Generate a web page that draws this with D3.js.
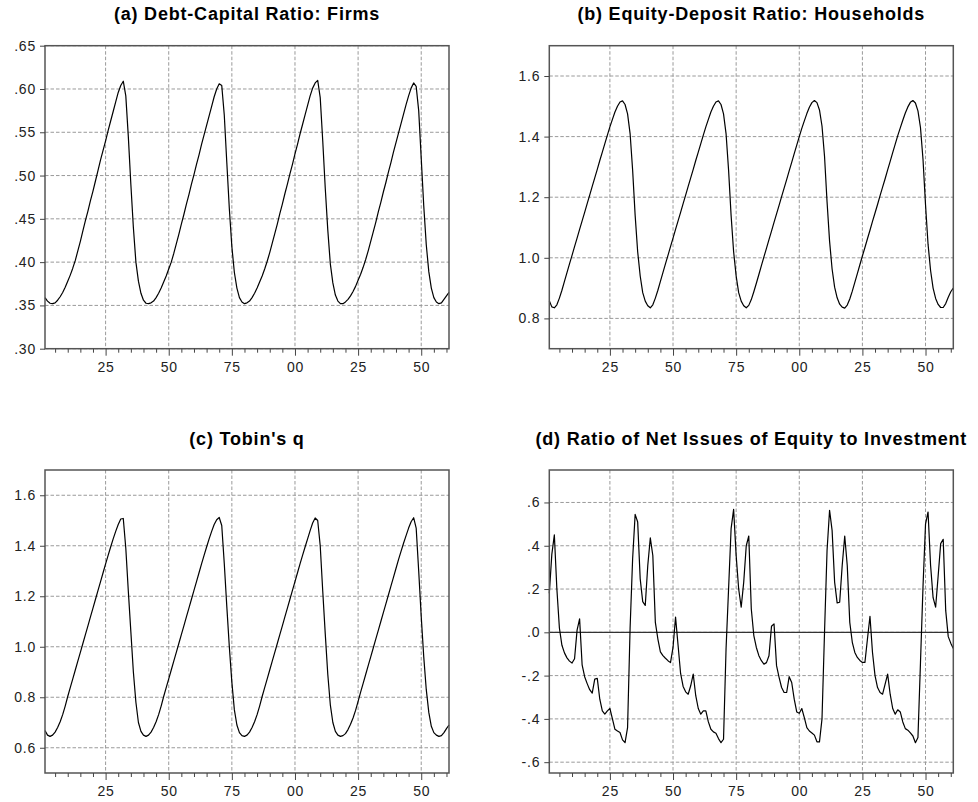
<!DOCTYPE html>
<html lang="en">
<head>
<meta charset="UTF-8">
<title>Simulated ratios</title>
<script src="https://d3js.org/d3.v7.min.js"></script>
<style>
  body { margin: 0; background: #fff; font-family: "Liberation Sans", Arial, sans-serif; }
  svg { display: block; }
  .tick text { font-size: 14px; fill: #222; letter-spacing: 0.8px; }
  .tick line { stroke: #444; }
  .title { font-size: 18px; font-weight: bold; letter-spacing: 0.8px; fill: #000; }
</style>
</head>
<body>

<svg width="978" height="802"></svg>

<script>
// observations 1..161
const obsStart = 1, obsEnd = 161;

const xTicks = [25, 50, 75, 100, 125, 150];
const xTickLabels = ["25", "50", "75", "00", "25", "50"];

const ticksA = [0.30, 0.35, 0.40, 0.45, 0.50, 0.55, 0.60, 0.65];
const labelsA = [".30", ".35", ".40", ".45", ".50", ".55", ".60", ".65"];
const ticksB = [0.8, 1.0, 1.2, 1.4, 1.6];
const labelsB = ["0.8", "1.0", "1.2", "1.4", "1.6"];
const ticksC = [0.6, 0.8, 1.0, 1.2, 1.4, 1.6];
const labelsC = ["0.6", "0.8", "1.0", "1.2", "1.4", "1.6"];
const ticksD = [-0.6, -0.4, -0.2, 0, 0.2, 0.4, 0.6];
const labelsD = ["-.6", "-.4", "-.2", ".0", ".2", ".4", ".6"];

const debtCapital = [
  .359,.355,.3525,.352,.353,.356,.360,.365,.371,.378,
  .385,.393,.402,.413,.424,.436,.448,.459,.471,.482,
  .494,.506,.518,.529,.540,.552,.563,.574,.585,.596,
  .604,.609,.592,.545,.490,.440,.400,.378,.364,.356,
  .3525,.352,.353,.355,.359,.364,.370,.377,.384,.392,
  .400,.410,.421,.432,.444,.455,.467,.478,.490,.501,
  .513,.524,.536,.547,.558,.569,.580,.591,.600,.606,
  .604,.570,.515,.462,.418,.388,.370,.359,.354,.352,
  .353,.355,.359,.364,.370,.377,.384,.392,.401,.411,
  .422,.433,.444,.456,.467,.479,.490,.502,.513,.525,
  .536,.548,.559,.570,.581,.592,.601,.607,.610,.590,
  .540,.485,.437,.398,.376,.362,.355,.352,.352,.354,
  .357,.361,.366,.372,.379,.386,.394,.403,.413,.424,
  .435,.446,.458,.469,.481,.492,.504,.515,.527,.538,
  .549,.560,.571,.582,.592,.601,.607,.603,.575,.520,
  .465,.420,.389,.370,.359,.354,.352,.353,.357,.361,
  .365
];

const equityDeposit = [
  .858,.838,.835,.845,.867,.893,.922,.951,.980,1.008,
  1.037,1.065,1.094,1.122,1.150,1.179,1.207,1.236,1.264,1.292,
  1.321,1.349,1.377,1.405,1.432,1.457,1.481,1.500,1.514,1.518,
  1.506,1.475,1.410,1.290,1.140,1.020,.940,.885,.857,.842,
  .835,.845,.867,.893,.922,.951,.980,1.008,1.037,1.065,
  1.094,1.122,1.150,1.179,1.207,1.236,1.264,1.292,1.321,1.349,
  1.377,1.405,1.432,1.457,1.481,1.500,1.514,1.518,1.506,1.475,
  1.410,1.290,1.140,1.020,.940,.885,.857,.842,.835,.843,
  .862,.888,.916,.945,.974,1.003,1.031,1.060,1.088,1.117,
  1.145,1.173,1.202,1.230,1.258,1.287,1.315,1.344,1.372,1.400,
  1.427,1.452,1.476,1.497,1.512,1.519,1.512,1.488,1.435,1.335,
  1.185,1.055,.963,.903,.868,.847,.837,.834,.844,.864,
  .890,.919,.948,.977,1.006,1.034,1.063,1.091,1.120,1.148,
  1.176,1.205,1.233,1.261,1.290,1.318,1.347,1.375,1.403,1.429,
  1.454,1.478,1.498,1.513,1.519,1.511,1.485,1.430,1.325,1.175,
  1.045,.958,.900,.866,.846,.836,.836,.849,.870,.888,
  .900
];

const tobinQ = [
  .668,.650,.645,.650,.662,.680,.703,.731,.765,.803,
  .838,.873,.908,.943,.978,1.013,1.048,1.083,1.118,1.153,
  1.188,1.223,1.258,1.293,1.328,1.362,1.395,1.427,1.457,1.484,
  1.506,1.508,1.390,1.220,1.060,.900,.780,.700,.665,.650,
  .645,.650,.662,.680,.703,.731,.765,.803,.838,.873,
  .908,.943,.978,1.013,1.048,1.083,1.118,1.153,1.188,1.223,
  1.258,1.293,1.328,1.362,1.395,1.427,1.457,1.484,1.503,1.512,
  1.480,1.330,1.160,1.000,.860,.750,.690,.660,.648,.645,
  .650,.662,.680,.703,.731,.765,.803,.838,.873,.908,
  .943,.978,1.013,1.048,1.083,1.118,1.153,1.188,1.223,1.258,
  1.293,1.328,1.362,1.395,1.427,1.460,1.490,1.510,1.500,1.400,
  1.220,1.050,.890,.770,.700,.665,.650,.645,.648,.656,
  .672,.693,.718,.748,.784,.820,.855,.890,.925,.960,
  .995,1.030,1.065,1.100,1.135,1.170,1.205,1.240,1.275,1.310,
  1.345,1.378,1.410,1.440,1.470,1.495,1.511,1.470,1.300,1.120,
  .960,.830,.740,.685,.660,.650,.645,.648,.660,.676,
  .690
];

const netIssues = [
  .18,.36,.45,.20,.02,-.06,-.095,-.118,-.133,-.142,
  -.122,.01,.062,-.15,-.205,-.237,-.265,-.281,-.216,-.213,
  -.309,-.363,-.378,-.363,-.352,-.40,-.448,-.456,-.463,-.497,
  -.51,-.44,.02,.34,.545,.51,.247,.142,.124,.309,
  .436,.355,.046,-.031,-.09,-.108,-.12,-.131,-.14,-.07,
  .07,-.06,-.19,-.25,-.275,-.286,-.247,-.193,-.293,-.352,
  -.378,-.363,-.363,-.414,-.448,-.46,-.466,-.491,-.51,-.494,
  -.077,.2,.479,.568,.355,.2,.116,.232,.40,.445,
  .108,-.015,-.07,-.108,-.131,-.147,-.14,-.108,.028,.039,
  -.154,-.208,-.255,-.278,-.278,-.205,-.232,-.309,-.368,-.374,
  -.352,-.394,-.44,-.456,-.465,-.475,-.506,-.506,-.40,0,
  .378,.564,.471,.232,.136,.139,.309,.445,.309,.046,
  -.046,-.093,-.116,-.13,-.139,-.139,-.031,.074,-.093,-.2,
  -.255,-.278,-.286,-.239,-.193,-.286,-.352,-.378,-.358,-.368,
  -.414,-.445,-.452,-.465,-.479,-.51,-.486,-.14,.21,.50,
  .556,.31,.16,.116,.26,.41,.43,.10,-.02,-.05,
  -.075
];

const panels = [
  { title: "(a) Debt-Capital Ratio: Firms", values: debtCapital, yDomain: [0.30, 0.65], yTicks: ticksA, yLabels: labelsA, col: 0, row: 0 },
  { title: "(b) Equity-Deposit Ratio: Households", values: equityDeposit, yDomain: [0.7, 1.7], yTicks: ticksB, yLabels: labelsB, col: 1, row: 0 },
  { title: "(c) Tobin's q", values: tobinQ, yDomain: [0.5, 1.7], yTicks: ticksC, yLabels: labelsC, col: 0, row: 1 },
  { title: "(d) Ratio of Net Issues of Equity to Investment", values: netIssues, yDomain: [-0.65, 0.75], yTicks: ticksD, yLabels: labelsD, col: 1, row: 1, zeroLine: true }
];

const svg = d3.select("svg");
const colX = [45, 549.3];
const rowY = [45.7, 470];
const pw = 404, ph = 303;

const minorTicks = d3.range(5, obsEnd, 5).filter(d => !xTicks.includes(d));

panels.forEach(p => {
  const g = svg.append("g")
    .attr("transform", `translate(${colX[p.col]},${rowY[p.row]})`);

  const x = d3.scaleLinear().domain([obsStart, obsEnd]).range([0, pw]);
  const y = d3.scaleLinear().domain(p.yDomain).range([ph, 0]);

  // dashed grid
  g.selectAll(".hgrid")
    .data(p.yTicks)
    .enter().append("line")
    .attr("x1", 0).attr("x2", pw)
    .attr("y1", d => y(d)).attr("y2", d => y(d))
    .attr("stroke", "#9a9a9a")
    .attr("stroke-dasharray", "3.5,2");

  g.selectAll(".vgrid")
    .data(xTicks)
    .enter().append("line")
    .attr("x1", d => x(d)).attr("x2", d => x(d))
    .attr("y1", 0).attr("y2", ph)
    .attr("stroke", "#9a9a9a")
    .attr("stroke-dasharray", "3.5,2");

  if (p.zeroLine) {
    g.append("line")
      .attr("x1", 0).attr("x2", pw)
      .attr("y1", y(0)).attr("y2", y(0))
      .attr("stroke", "#333")
      .attr("stroke-width", 1.3);
  }

  const line = d3.line()
    .x((d, i) => x(obsStart + i))
    .y(d => y(d));

  g.append("path")
    .datum(p.values)
    .attr("d", line)
    .attr("fill", "none")
    .attr("stroke", "#000")
    .attr("stroke-width", 1.2)
    .attr("stroke-linejoin", "round");

  // frame
  g.append("rect")
    .attr("width", pw).attr("height", ph)
    .attr("fill", "none")
    .attr("stroke", "#555")
    .attr("stroke-width", 1.5);

  // axes
  const yAxis = d3.axisLeft(y)
    .tickValues(p.yTicks)
    .tickFormat((d, i) => p.yLabels[i])
    .tickSize(5).tickPadding(4);
  g.append("g").call(yAxis).call(a => a.select(".domain").remove());

  const xAxis = d3.axisBottom(x)
    .tickValues(xTicks)
    .tickFormat((d, i) => xTickLabels[i])
    .tickSize(7).tickPadding(6);
  g.append("g").attr("transform", `translate(0,${ph})`)
    .call(xAxis).call(a => a.select(".domain").remove());

  const xMinor = d3.axisBottom(x)
    .tickValues(minorTicks)
    .tickFormat("")
    .tickSize(4);
  g.append("g").attr("transform", `translate(0,${ph})`)
    .call(xMinor).call(a => a.select(".domain").remove());

  g.selectAll(".tick text").attr("font-family", null);
  g.selectAll("g").attr("font-family", null).attr("font-size", null);

  g.append("text")
    .attr("class", "title")
    .attr("x", pw / 2)
    .attr("y", -25.5)
    .attr("text-anchor", "middle")
    .text(p.title);
});
</script>

</body>
</html>
